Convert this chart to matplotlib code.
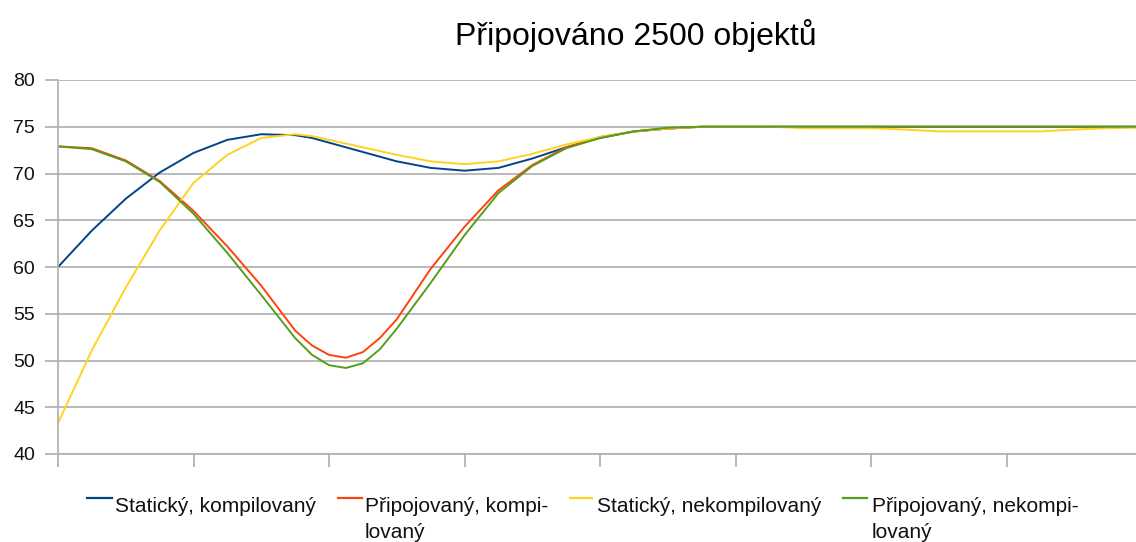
import matplotlib
matplotlib.use("Agg")
import matplotlib.pyplot as plt
from matplotlib.lines import Line2D

plt.rcParams['font.family'] = ['Liberation Sans', 'DejaVu Sans']

title = "Připojováno 2500 objektů"
x = [0.0, 0.25, 0.5, 0.75, 1.0, 1.25, 1.5, 1.75, 1.875, 2.0, 2.125, 2.25, 2.375,
     2.5, 2.75, 3.0, 3.25, 3.5, 3.75, 4.0, 4.25, 4.5, 4.75, 5.0, 5.25, 5.5,
     5.75, 6.0, 6.25, 6.5, 6.75, 7.0, 7.25, 7.5, 7.75, 8.0]

static_comp = [60.0, 63.9, 67.3, 70.1, 72.2, 73.6, 74.2, 74.1, 73.8, 73.3, 72.8,
               72.3, 71.8, 71.3, 70.6, 70.3, 70.6, 71.6, 72.8, 73.8, 74.5,
               74.8] + [75.0] * 14
attach_comp = [72.9, 72.7, 71.4, 69.2, 66.0, 62.2, 58.0, 53.2, 51.6, 50.6, 50.3,
               50.9, 52.4, 54.4, 59.8, 64.3, 68.2, 70.9, 72.8, 73.9, 74.5,
               74.8] + [75.0] * 14
static_nocomp = [43.3, 51.1, 57.8, 63.9, 69.0, 72.0, 73.8, 74.2, 74.0, 73.6, 73.2,
                 72.8, 72.4, 72.0, 71.3, 71.0, 71.3, 72.1, 73.1, 73.9, 74.5,
                 74.8, 75.0, 75.0, 75.0, 74.85, 74.85, 74.85, 74.7, 74.5, 74.5,
                 74.5, 74.5, 74.7, 74.85, 74.9]
attach_nocomp = [72.9, 72.6, 71.3, 69.1, 65.7, 61.5, 57.0, 52.4, 50.6, 49.5, 49.2,
                 49.7, 51.2, 53.4, 58.3, 63.4, 67.9, 70.8, 72.7, 73.8, 74.5,
                 74.9] + [75.0] * 14

series = [
    ("Statický, kompilovaný", static_comp, "#004586"),
    ("Připojovaný, kompi-\nlovaný", attach_comp, "#ff420e"),
    ("Statický, nekompilovaný", static_nocomp, "#ffd320"),
    ("Připojovaný, nekompi-\nlovaný", attach_nocomp, "#579d1c"),
]
y_ticks = [40, 45, 50, 55, 60, 65, 70, 75, 80]
x_ticks = [0, 1, 2, 3, 4, 5, 6, 7]

W, H = 1136, 542
fig = plt.figure(figsize=(W / 100, H / 100), dpi=100)
ax = fig.add_axes([58 / W, 88 / H, 1078 / W, 374 / H])

grid_c = "#b3b3b3"
for name, vals, col in series:
    ax.plot(x, vals, color=col, lw=1.4, solid_joinstyle='round', clip_on=True)

ax.set_xlim(0, 1078 / 135.5)
ax.set_ylim(40, 80)
ax.set_yticks(y_ticks)
ax.set_xticks(x_ticks)
ax.set_xticklabels([])
ax.yaxis.grid(True, color=grid_c, lw=1.3)
ax.set_axisbelow(True)
for s in ['top', 'right']:
    ax.spines[s].set_visible(False)
for s in ['left', 'bottom']:
    ax.spines[s].set_color(grid_c)
    ax.spines[s].set_linewidth(1.3)
ax.tick_params(axis='y', length=9.4, width=1.3, color=grid_c, pad=7,
               labelsize=14, labelcolor='#111111')
ax.tick_params(axis='x', length=9.4, width=1.3, color=grid_c)

fig.text(636 / W, (H - 45) / H, title, ha='center', va='baseline', fontsize=23)

# legend (manual)
handle_px = [(87, 112), (338, 362), (570, 592), (843, 867)]
text_px = [115, 365, 597, 872]
for (name, vals, col), (h0, h1), tx in zip(series, handle_px, text_px):
    yl = (H - 498) / H
    fig.add_artist(Line2D([h0 / W, h1 / W], [yl, yl], color=col, lw=1.6,
                          transform=fig.transFigure))
    lines = name.split("\n")
    for i, ln in enumerate(lines):
        fig.text(tx / W, (H - 512 - 26 * i) / H, ln, ha='left', va='baseline',
                 fontsize=15, color='#111111')

fig.savefig("out.png", dpi=100)
